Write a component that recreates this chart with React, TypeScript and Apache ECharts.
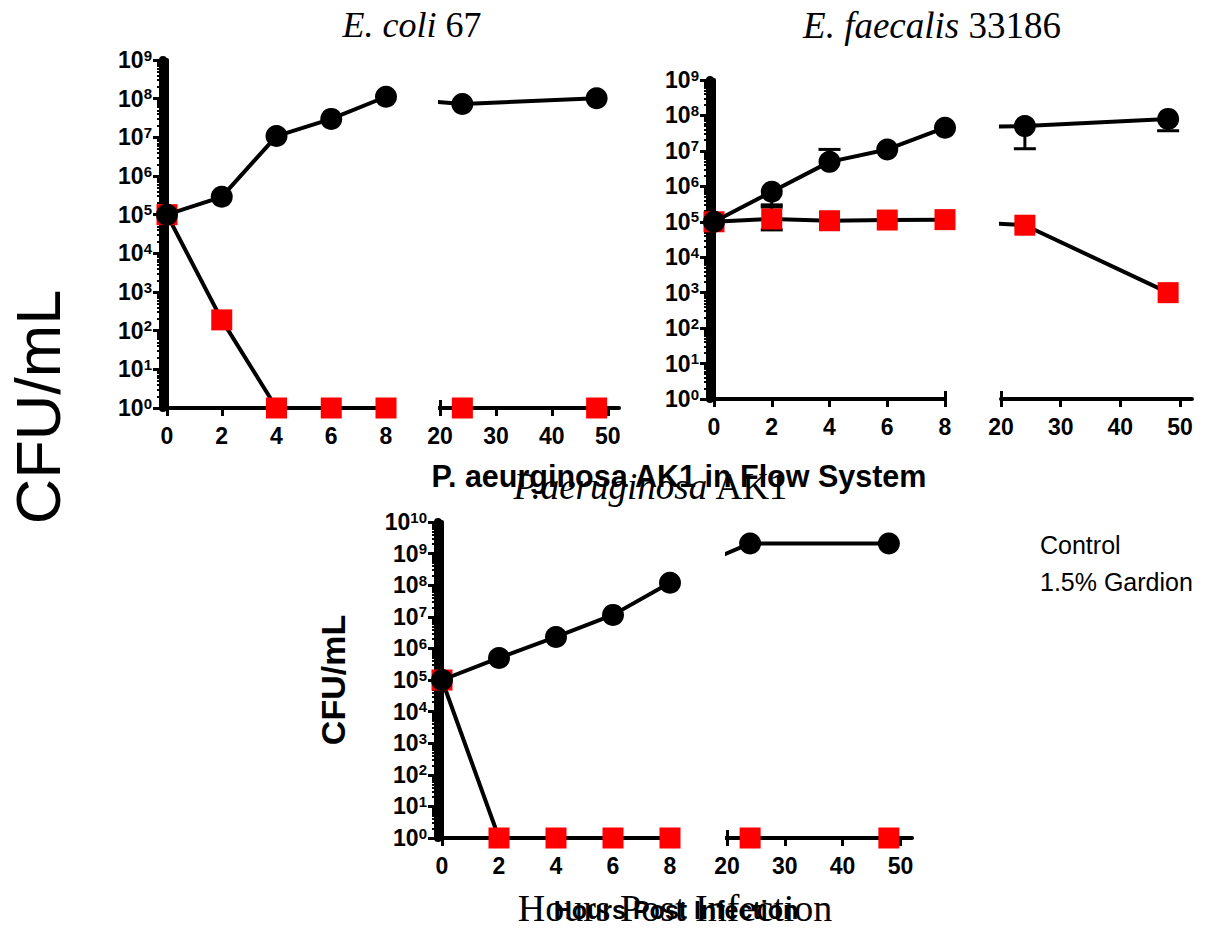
import React, { useEffect, useRef } from 'react';
import * as echarts from 'echarts';

// ---------------- data ----------------
const hours = [0, 2, 4, 6, 8, 24, 48];

const ecoliControl = [1e5, 2.9e5, 1.08e7, 3e7, 1.12e8, 7.3e7, 1.02e8];
const ecoliGardion = [1e5, 1.9e2, 1, 1, 1, 1, 1];

const faecalisControl = [1e5, 7e5, 4.9e6, 1.1e7, 4.5e7, 5e7, 8e7];
const faecalisControlLow = [null, 3e5, null, null, null, 1.15e7, 3.7e7];
const faecalisControlHigh = [null, null, 1.1e7, null, null, null, null];
const faecalisGardion = [1e5, 1.2e5, 1.07e5, 1.12e5, 1.15e5, 8e4, 1e3];
const faecalisGardionLow = [null, 5.9e4, null, null, null, null, null];
const faecalisGardionHigh = [null, 2.6e5, null, null, null, null, null];

const aeruginosaControl = [1e5, 5e5, 2.3e6, 1.15e7, 1.2e8, 2.1e9, 2.1e9];
const aeruginosaGardion = [1e5, 1, 1, 1, 1, 1, 1];

const earlyTicks = [0, 2, 4, 6, 8];
const lateTicks = [20, 30, 40, 50];
const seriesNames = ['Control', '1.5% Gardion'];

// ---------------- styling ----------------
const SANS = '"Liberation Sans", Arial, sans-serif';
const SERIF = '"Liberation Serif", "Times New Roman", serif';
const BLACK = '#000000';
const RED = '#ff0000';

const panels = [
  {
    left: [167, 60, 219, 348], right: [440, 60, 179, 348], ymaxExp: 9,
    control: ecoliControl, gardion: ecoliGardion,
    cLow: null, cHigh: null, gLow: null, gHigh: null,
  },
  {
    left: [714, 80, 231, 319], right: [1001, 80, 191, 319], ymaxExp: 9,
    control: faecalisControl, gardion: faecalisGardion,
    cLow: faecalisControlLow, cHigh: faecalisControlHigh, gLow: faecalisGardionLow, gHigh: faecalisGardionHigh,
  },
  {
    left: [442, 522, 228, 316], right: [727, 522, 185, 316], ymaxExp: 10,
    control: aeruginosaControl, gardion: aeruginosaGardion,
    cLow: null, cHigh: null, gLow: null, gHigh: null,
  },
];

function buildOption() {
  const grids: any[] = [];
  const xAxes: any[] = [];
  const yAxes: any[] = [];
  const series: any[] = [];

  const pairs = (vals: number[]) => hours.map((h, i) => [h, vals[i]]);
  const errData = (vals: number[], lo: any, hi: any, xmin: number, xmax: number) => {
    if (!lo && !hi) return [];
    const out: any[] = [];
    hours.forEach((h, i) => {
      if (h < xmin || h > xmax) return;
      const l = lo && lo[i] != null ? lo[i] : vals[i];
      const u = hi && hi[i] != null ? hi[i] : vals[i];
      if (l !== vals[i] || u !== vals[i]) out.push([h, vals[i], l, u]);
    });
    return out;
  };

  const addGrid = (p: any, rect: number[], xmin: number, xmax: number, ticks: number[], capTicks: number[], showY: boolean) => {
    const gi = grids.length;
    grids.push({ left: rect[0], top: rect[1], width: rect[2], height: rect[3], containLabel: false, outerBoundsMode: 'none' });
    const xi = xAxes.length;
    xAxes.push({
      type: 'value', gridIndex: gi, min: xmin, max: xmax, position: 'bottom',
      axisLine: { show: true, onZero: false, lineStyle: { color: BLACK, width: 4 } },
      axisTick: { show: true, customValues: ticks, length: 8, lineStyle: { color: BLACK, width: 3 } },
      axisLabel: { customValues: ticks, margin: 16, color: BLACK, fontFamily: SANS, fontWeight: 'bold', fontSize: 23 },
      splitLine: { show: false },
    });
    xAxes.push({
      type: 'value', gridIndex: gi, min: xmin, max: xmax, position: 'bottom',
      axisLine: { show: false },
      axisTick: { show: true, inside: true, customValues: capTicks, length: 8, lineStyle: { color: BLACK, width: 3 } },
      axisLabel: { show: false },
      splitLine: { show: false },
    });
    const ymax = Math.pow(10, p.ymaxExp);
    const decades: number[] = [];
    for (let e = 0; e <= p.ymaxExp; e++) decades.push(Math.pow(10, e));
    const minors: number[] = [];
    for (let e = 0; e < p.ymaxExp; e++) for (let m = 2; m <= 9; m++) minors.push(m * Math.pow(10, e));
    const yi = yAxes.length;
    yAxes.push({
      type: 'log', logBase: 10, gridIndex: gi, min: 1, max: ymax, position: 'left', show: showY,
      axisLine: { show: true, onZero: false, lineStyle: { color: BLACK, width: 4 } },
      axisTick: { show: true, customValues: decades, length: 14, lineStyle: { color: BLACK, width: 3 } },
      axisLabel: {
        customValues: decades, margin: 15,
        formatter: (v: number) => `{b|10}{s|${Math.round(Math.log10(v))}}`,
        rich: {
          b: { fontFamily: SANS, fontWeight: 'bold', fontSize: 23, color: BLACK, lineHeight: 25 },
          s: { fontFamily: SANS, fontWeight: 'bold', fontSize: 15, color: BLACK, verticalAlign: 'top', lineHeight: 15 },
        },
      },
      splitLine: { show: false },
    });
    if (showY) {
      yAxes.push({
        type: 'log', logBase: 10, gridIndex: gi, min: 1, max: ymax, position: 'left', offset: 4,
        axisLine: { show: true, onZero: false, lineStyle: { color: BLACK, width: 8 } },
        axisTick: { show: true, customValues: minors, length: 6, lineStyle: { color: BLACK, width: 2 } },
        axisLabel: { show: false },
        splitLine: { show: false },
      });
    }

    const errs = [
      ...errData(p.gardion, p.gLow, p.gHigh, xmin, xmax),
      ...errData(p.control, p.cLow, p.cHigh, xmin, xmax),
    ];
    if (errs.length) {
      series.push({
        type: 'custom', xAxisIndex: xi, yAxisIndex: yi, data: errs, z: 1, silent: true, clip: true,
        encode: { x: 0, y: 1 },
        renderItem: (_params: any, api: any) => {
          const x = api.value(0), mean = api.value(1), lo = api.value(2), hi = api.value(3);
          const pm = api.coord([x, mean]);
          const style = { stroke: BLACK, lineWidth: 3 };
          const half = 11;
          const children: any[] = [];
          if (lo < mean) {
            const pl = api.coord([x, lo]);
            children.push({ type: 'line', shape: { x1: pm[0], y1: pm[1], x2: pl[0], y2: pl[1] }, style });
            children.push({ type: 'line', shape: { x1: pl[0] - half, y1: pl[1], x2: pl[0] + half, y2: pl[1] }, style });
          }
          if (hi > mean) {
            const ph = api.coord([x, hi]);
            children.push({ type: 'line', shape: { x1: pm[0], y1: pm[1], x2: ph[0], y2: ph[1] }, style });
            children.push({ type: 'line', shape: { x1: ph[0] - half, y1: ph[1], x2: ph[0] + half, y2: ph[1] }, style });
          }
          return { type: 'group', children };
        },
      });
    }

    series.push({
      type: 'line', name: seriesNames[1], xAxisIndex: xi, yAxisIndex: yi, data: pairs(p.gardion),
      symbol: 'rect', symbolSize: 21, showAllSymbol: true, clip: true, z: 3, silent: true,
      itemStyle: { color: RED }, lineStyle: { color: BLACK, width: 4 },
    });
    series.push({
      type: 'line', name: seriesNames[0], xAxisIndex: xi, yAxisIndex: yi, data: pairs(p.control),
      symbol: 'circle', symbolSize: 22, showAllSymbol: true, clip: true, z: 4, silent: true,
      itemStyle: { color: BLACK }, lineStyle: { color: BLACK, width: 4 },
    });
  };

  panels.forEach((p) => {
    addGrid(p, p.left, 0, 8, earlyTicks, [8], true);
    addGrid(p, p.right, 20, 52, lateTicks, [20], false);
  });

  const serifRich = (size: number) => ({
    i: { fontFamily: SERIF, fontStyle: 'italic', fontSize: size, fill: BLACK, color: BLACK },
    n: { fontFamily: SERIF, fontSize: size, fill: BLACK, color: BLACK },
  });

  const graphic: any[] = [
    { type: 'text', x: 412, y: 25, style: { text: '{i|E. coli}{n| 67}', rich: serifRich(36), align: 'center', verticalAlign: 'middle' } },
    { type: 'text', x: 932, y: 25, style: { text: '{i|E. faecalis}{n| 33186}', rich: serifRich(37), align: 'center', verticalAlign: 'middle' } },
    { type: 'text', x: 679, y: 476, style: { text: 'P. aeurginosa AK1 in Flow System', fontFamily: SANS, fontWeight: 'bold', fontSize: 30.5, fill: BLACK, align: 'center', verticalAlign: 'middle' } },
    { type: 'text', x: 651, y: 486, style: { text: '{i|P.aeruginosa}{n| AK1}', rich: serifRich(37), align: 'center', verticalAlign: 'middle' } },
    { type: 'text', x: 38, y: 407, rotation: Math.PI / 2, style: { text: 'CFU/mL', fontFamily: SANS, fontSize: 63, fill: BLACK, align: 'center', verticalAlign: 'middle' } },
    { type: 'text', x: 333, y: 680, rotation: Math.PI / 2, style: { text: 'CFU/mL', fontFamily: SANS, fontWeight: 'bold', fontSize: 34, fill: BLACK, align: 'center', verticalAlign: 'middle' } },
    { type: 'text', x: 676, y: 910, style: { text: 'Hours Post Infection', fontFamily: SANS, fontWeight: 'bold', fontSize: 25, fill: BLACK, align: 'center', verticalAlign: 'middle' } },
    { type: 'text', x: 675, y: 908, style: { text: 'Hours Post Infection', fontFamily: SERIF, fontSize: 38, fill: BLACK, align: 'center', verticalAlign: 'middle' } },
  ];

  return {
    animation: false,
    backgroundColor: '#ffffff',
    grid: grids,
    xAxis: xAxes,
    yAxis: yAxes,
    series,
    legend: {
      show: true, data: seriesNames, orient: 'vertical', left: 1005, top: 526,
      icon: 'none', itemWidth: 25, itemHeight: 14, itemGap: 9, selectedMode: false,
      textStyle: { fontFamily: SANS, fontSize: 25, color: BLACK, lineHeight: 28 },
    },
    graphic,
  };
}

export default function App() {
  const ref = useRef<HTMLDivElement>(null);
  useEffect(() => {
    document.body.style.margin = '0';
    if (!ref.current) return;
    const chart = echarts.init(ref.current, null, { renderer: 'svg' });
    chart.setOption(buildOption() as any);
    return () => chart.dispose();
  }, []);
  return <div ref={ref} style={{ width: 1207, height: 930 }} />;
}
